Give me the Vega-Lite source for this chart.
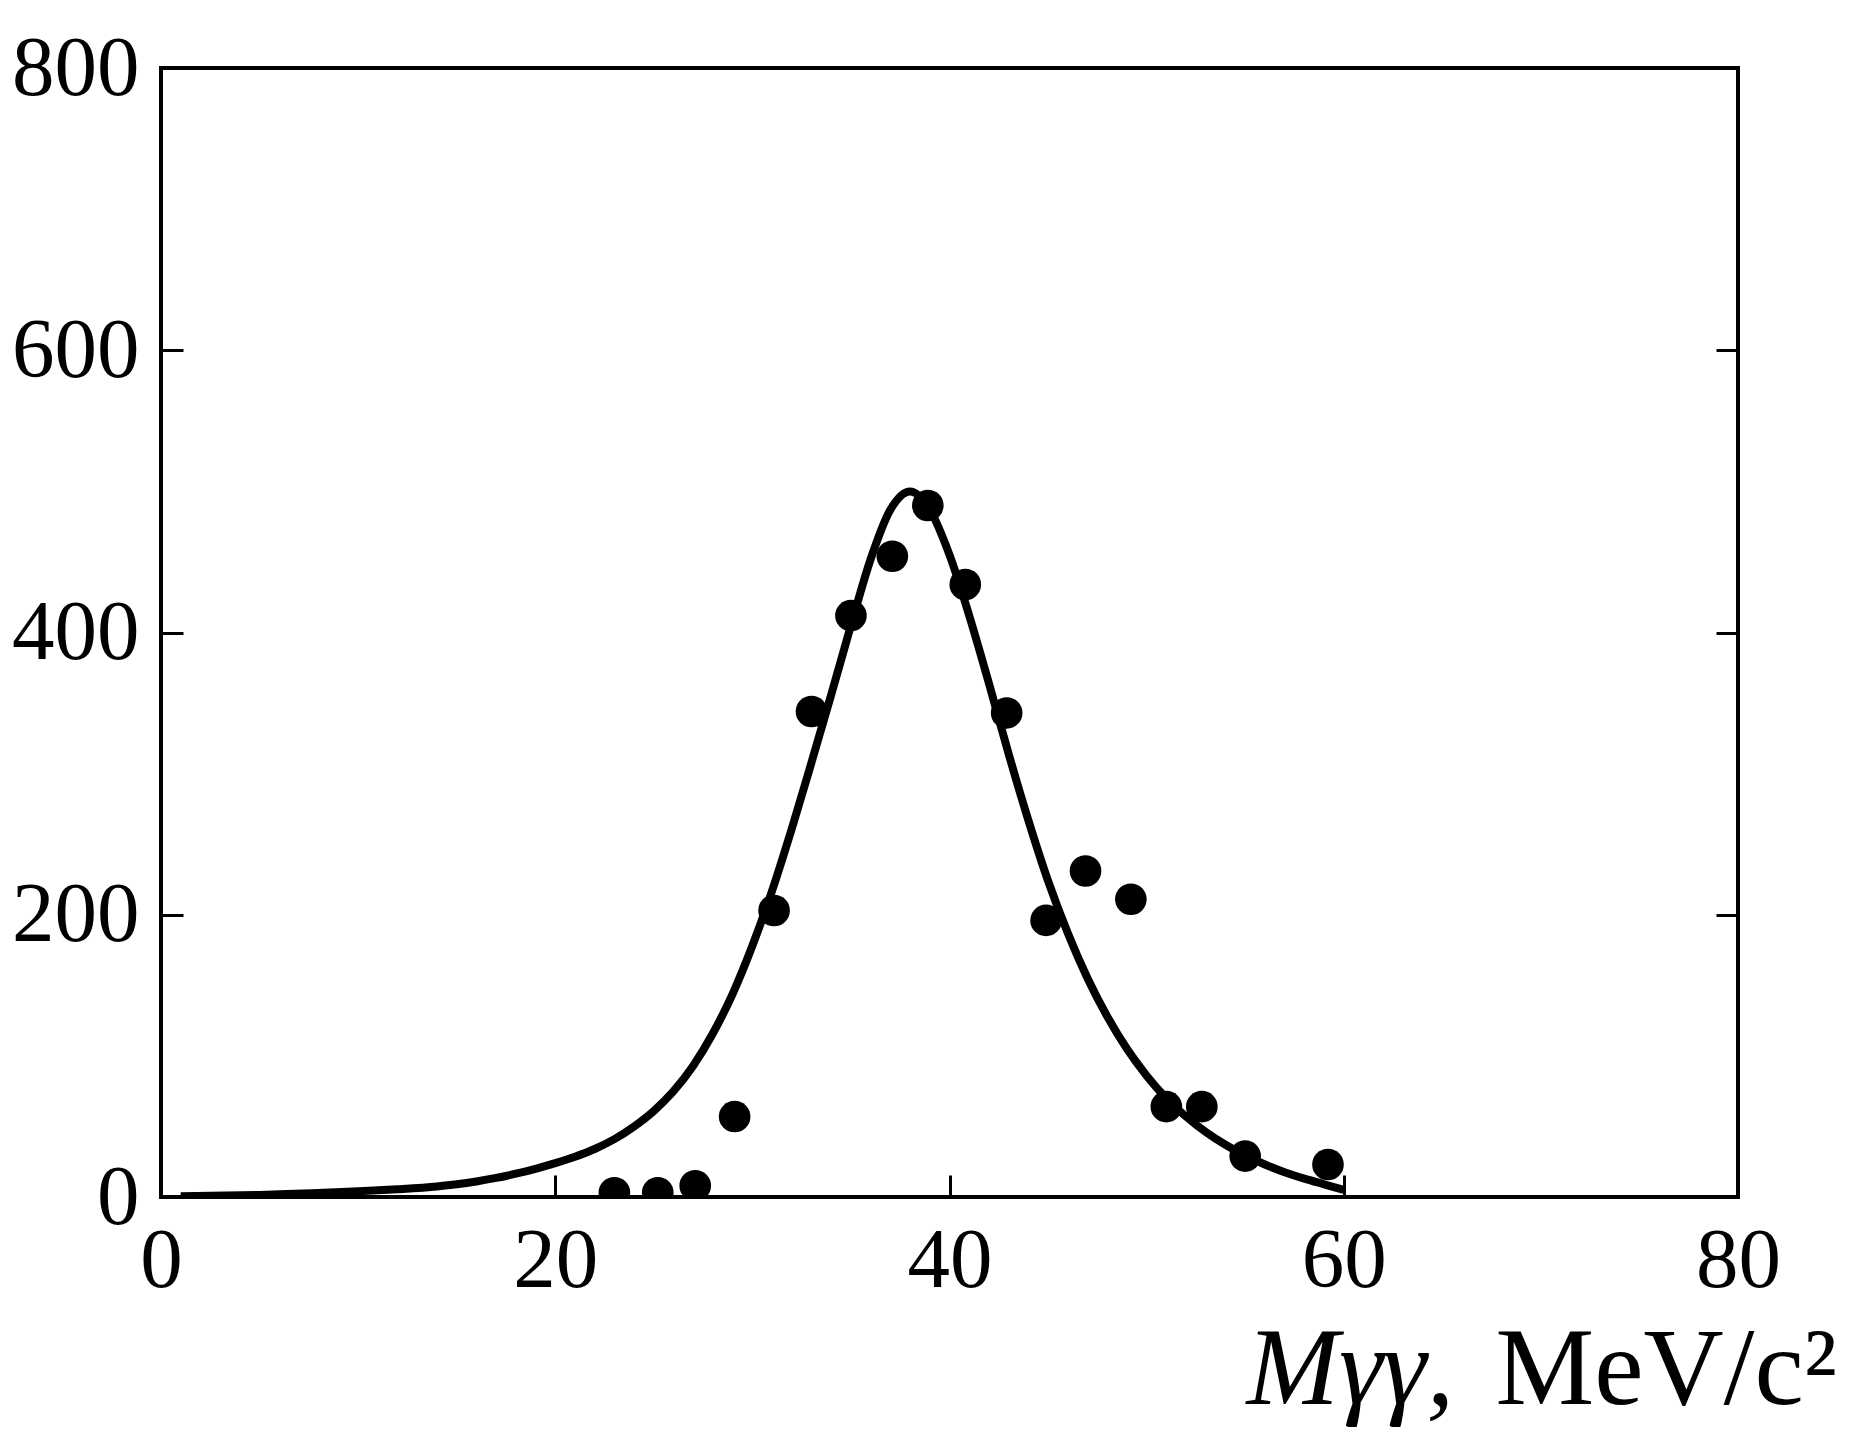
{
  "$schema": "https://vega.github.io/schema/vega-lite/v6.json",
  "width": 1577,
  "height": 1129,
  "autosize": {"type": "none"},
  "padding": {"left": 161, "top": 68, "right": 111, "bottom": 243},
  "background": "white",
  "config": {
    "view": {"stroke": "black", "strokeWidth": 4},
    "axis": {
      "domain": false,
      "grid": false,
      "labelFont": "Liberation Serif",
      "labelFontSize": 85,
      "labelColor": "black",
      "labelFlush": false,
      "labelOverlap": false,
      "tickColor": "black",
      "tickWidth": 3,
      "tickSize": -22,
      "titleFont": "Liberation Serif",
      "titleColor": "black",
      "titleFontWeight": "normal",
      "titleFontSize": 111
    }
  },
  "layer": [
    {
      "data": {
        "values": [
          {"m": 1, "n": 0.5}, {"m": 5, "n": 1.5}, {"m": 10, "n": 4}, {"m": 12, "n": 5.5},
          {"m": 14, "n": 7.5}, {"m": 15, "n": 9}, {"m": 16, "n": 11}, {"m": 17, "n": 13.5},
          {"m": 18, "n": 16.5}, {"m": 19, "n": 20}, {"m": 20, "n": 24}, {"m": 21, "n": 28.5},
          {"m": 22, "n": 34}, {"m": 23, "n": 41}, {"m": 24, "n": 50}, {"m": 25, "n": 61},
          {"m": 26, "n": 75}, {"m": 27, "n": 93}, {"m": 28, "n": 116}, {"m": 29, "n": 144},
          {"m": 30, "n": 178}, {"m": 31, "n": 217}, {"m": 32, "n": 261}, {"m": 33, "n": 308},
          {"m": 34, "n": 356}, {"m": 35, "n": 405}, {"m": 36, "n": 452}, {"m": 37, "n": 487},
          {"m": 38, "n": 500}, {"m": 39, "n": 487}, {"m": 40, "n": 455}, {"m": 41, "n": 412},
          {"m": 42, "n": 364}, {"m": 43, "n": 314}, {"m": 44, "n": 267}, {"m": 45, "n": 224},
          {"m": 46, "n": 187}, {"m": 47, "n": 155}, {"m": 48, "n": 128}, {"m": 49, "n": 105},
          {"m": 50, "n": 86}, {"m": 51, "n": 70}, {"m": 52, "n": 57}, {"m": 53, "n": 46},
          {"m": 54, "n": 37}, {"m": 55, "n": 29.5}, {"m": 56, "n": 23}, {"m": 57, "n": 17.5},
          {"m": 58, "n": 13}, {"m": 59, "n": 9}, {"m": 60, "n": 5}
        ]
      },
      "mark": {"type": "line", "color": "black", "strokeWidth": 8, "interpolate": "monotone", "clip": true},
      "encoding": {
        "x": {
          "field": "m", "type": "quantitative",
          "scale": {"domain": [0, 80]},
          "axis": {
            "orient": "bottom",
            "values": [0, 20, 40, 60, 80],
            "labelPadding": 44,
            "title": "Mγγ,",
            "titleFontStyle": "italic",
            "titleX": 1085,
            "titleY": 206,
            "titleAlign": "left",
            "titleBaseline": "alphabetic"
          }
        },
        "y": {
          "field": "n", "type": "quantitative",
          "scale": {"domain": [0, 800]},
          "axis": {
            "orient": "left",
            "values": [0, 200, 400, 600, 800],
            "labelPadding": 44,
            "title": null
          }
        }
      }
    },
    {
      "data": {
        "values": [
          {"m": 23.0, "n": 3}, {"m": 25.2, "n": 3}, {"m": 27.1, "n": 8}, {"m": 29.1, "n": 57},
          {"m": 31.1, "n": 203}, {"m": 33.0, "n": 344}, {"m": 35.0, "n": 412}, {"m": 37.1, "n": 454},
          {"m": 38.9, "n": 490}, {"m": 40.8, "n": 434}, {"m": 42.9, "n": 343}, {"m": 44.9, "n": 196},
          {"m": 46.9, "n": 231}, {"m": 49.2, "n": 211}, {"m": 51.0, "n": 64}, {"m": 52.8, "n": 64},
          {"m": 55.0, "n": 29}, {"m": 59.2, "n": 23}
        ]
      },
      "mark": {"type": "circle", "color": "black", "opacity": 1, "size": 1000, "clip": true},
      "encoding": {
        "x": {
          "field": "m", "type": "quantitative",
          "scale": {"domain": [0, 80]},
          "axis": {
            "orient": "bottom",
            "labels": false,
            "ticks": false,
            "title": "MeV/c²",
            "titleX": 1334,
            "titleY": 206,
            "titleAlign": "left",
            "titleBaseline": "alphabetic"
          }
        },
        "y": {
          "field": "n", "type": "quantitative",
          "scale": {"domain": [0, 800]},
          "axis": {
            "orient": "right",
            "values": [200, 400, 600],
            "labels": false,
            "title": null
          }
        }
      }
    }
  ],
  "resolve": {"axis": {"x": "independent", "y": "independent"}}
}
